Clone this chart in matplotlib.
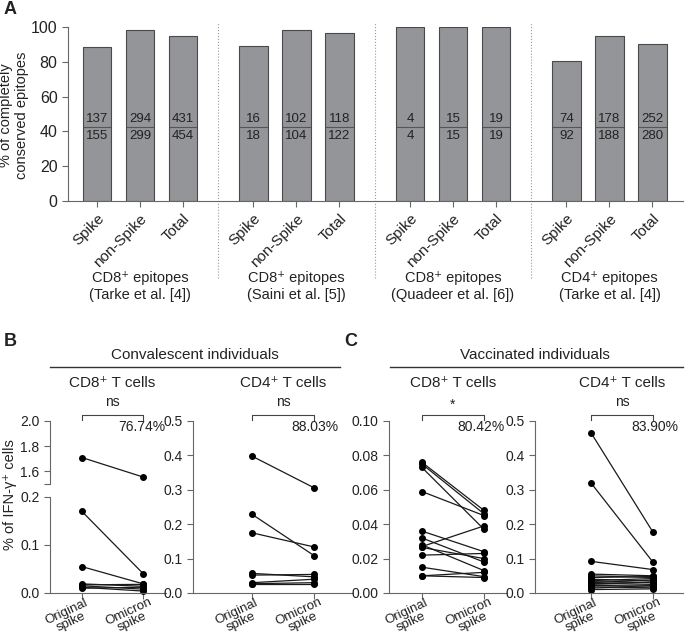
import matplotlib
matplotlib.use("Agg")
import matplotlib.pyplot as plt
from matplotlib.lines import Line2D
from matplotlib.ticker import FormatStrFormatter
from matplotlib.transforms import blended_transform_factory

plt.rcParams['font.family'] = ['Liberation Sans', 'DejaVu Sans']
plt.rcParams['font.size'] = 10
plt.rcParams['axes.edgecolor'] = '#666666'
plt.rcParams['xtick.color'] = '#666666'
plt.rcParams['ytick.color'] = '#666666'
plt.rcParams['xtick.labelcolor'] = '#222222'
plt.rcParams['ytick.labelcolor'] = '#222222'
plt.rcParams['text.color'] = '#222222'

# ---- panel A data ----
categorias = ["Spike", "non-Spike", "Total"]
grupos = ["CD8⁺ epitopes\n(Tarke et al. [4])",
          "CD8⁺ epitopes\n(Saini et al. [5])",
          "CD8⁺ epitopes\n(Quadeer et al. [6])",
          "CD4⁺ epitopes\n(Tarke et al. [4])"]
conservados = [88.4, 98.3, 94.9, 88.9, 98.1, 96.7, 100, 100, 100, 80.4, 94.7, 90.0]
numeradores = [137, 294, 431, 16, 102, 118, 4, 15, 19, 74, 178, 252]
denominadores = [155, 299, 454, 18, 104, 122, 4, 15, 19, 92, 188, 280]

# ---- panels B/C data (original spike -> omicron spike) ----
conv_cd8_orig = [1.71, 0.170, 0.055, 0.019, 0.017, 0.015, 0.012, 0.010]
conv_cd8_omi = [1.555, 0.040, 0.019, 0.014, 0.018, 0.008, 0.004, 0.012]
conv_cd4_orig = [0.398, 0.229, 0.175, 0.057, 0.052, 0.030, 0.027, 0.025]
conv_cd4_omi = [0.306, 0.109, 0.134, 0.047, 0.054, 0.040, 0.030, 0.025]
vac_cd8_orig = [0.076, 0.075, 0.073, 0.059, 0.036, 0.032, 0.028, 0.027, 0.0265, 0.022, 0.015, 0.010, 0.010]
vac_cd8_omi = [0.048, 0.046, 0.037, 0.045, 0.024, 0.018, 0.013, 0.039, 0.020, 0.023, 0.0095, 0.012, 0.009]
vac_cd4_orig = [0.466, 0.320, 0.092, 0.055, 0.050, 0.045, 0.040, 0.036, 0.033, 0.030, 0.028, 0.025, 0.022, 0.018, 0.014, 0.010]
vac_cd4_omi = [0.176, 0.089, 0.068, 0.050, 0.045, 0.048, 0.035, 0.042, 0.030, 0.038, 0.025, 0.032, 0.020, 0.015, 0.022, 0.012]
percentuais = ["76.74%", "88.03%", "80.42%", "83.90%"]
significancia = ["ns", "ns", "*", "ns"]
xrotulos = [("Original", "spike"), ("Omicron", "spike")]

W, H = 685, 635
fig = plt.figure(figsize=(W / 100, H / 100), dpi=100)


def rect(l, t, r, b):
    return [l / W, 1 - b / H, (r - l) / W, (b - t) / H]


def fx(x):
    return x / W


def fy(y):
    return 1 - y / H


# ================= Panel A =================
axA = fig.add_axes(rect(68, 27, 683, 201))
pos = [g * 3.64 + i for g in range(4) for i in range(3)]
axA.bar(pos, conservados, width=0.66, color='#939598', edgecolor='#4a4a4a', linewidth=0.8)
axA.set_xlim(-0.674, 13.63)
axA.set_ylim(0, 100)
axA.set_yticks(range(0, 101, 20))
axA.set_xticks(pos)
axA.set_xticklabels(categorias * 4, rotation=45, ha='right', rotation_mode='anchor', fontsize=11)
axA.tick_params(axis='y', labelsize=11.5, length=4)
axA.tick_params(axis='x', length=4)
for s in ['top', 'right']:
    axA.spines[s].set_visible(False)

for p, n, d in zip(pos, numeradores, denominadores):
    axA.plot([p - 0.31, p + 0.31], [42.5, 42.5], color='#555555', lw=0.8)
    axA.text(p, 47, str(n), ha='center', va='center', fontsize=9.5)
    axA.text(p, 37.5, str(d), ha='center', va='center', fontsize=9.5)

for g in range(3):
    xs = (pos[g * 3 + 2] + pos[g * 3 + 3]) / 2
    axA.axvline(xs, ymin=-0.44, ymax=1.03, color='#999999', ls=':', lw=0.8, clip_on=False)

tr = blended_transform_factory(axA.transData, axA.transAxes)
for g, nome in enumerate(grupos):
    axA.text(pos[g * 3 + 1], -0.49, nome, transform=tr, ha='center', va='center',
             fontsize=10.5, linespacing=1.3)

fig.text(fx(14), fy(115), "% of completely\nconserved epitopes", rotation=90,
         ha='center', va='center', fontsize=10.5, linespacing=1.2)
fig.text(fx(4), fy(9), "A", fontsize=13, fontweight='bold', va='center')

# ================= Panels B / C =================


def estilo(ax):
    for s in ['top', 'right']:
        ax.spines[s].set_visible(False)
    ax.tick_params(length=4, labelsize=10)


def pares(ax, orig, omi):
    for a, b in zip(orig, omi):
        ax.plot([0, 1], [a, b], color='#1a1a1a', lw=0.9, marker='o', ms=4,
                mec='black', mfc='black', clip_on=False)


def eixo_x(ax, xl, xr):
    ax.set_xlim(xl, xr)
    ax.set_xticks([0, 1])
    ax.set_xticklabels(['', ''])
    for x, (l1, l2) in zip([0, 1], xrotulos):
        ax.annotate(l1, (x, 0), xytext=(-15, -19), textcoords='offset pixels',
                    rotation=25, ha='center', va='center', rotation_mode='anchor',
                    fontsize=9.5, annotation_clip=False)
        ax.annotate(l2, (x, 0), xytext=(-11, -29), textcoords='offset pixels',
                    rotation=25, ha='center', va='center', rotation_mode='anchor',
                    fontsize=9.5, annotation_clip=False)


# B1 broken axis
b1_low = fig.add_axes(rect(50, 497, 166, 593))
b1_up = fig.add_axes(rect(50, 421, 166, 484))
baixo = [(a, b) for a, b in zip(conv_cd8_orig, conv_cd8_omi) if a < 0.2]
cima = [(a, b) for a, b in zip(conv_cd8_orig, conv_cd8_omi) if a > 1.5]
estilo(b1_low)
estilo(b1_up)
pares(b1_low, [a for a, b in baixo], [b for a, b in baixo])
pares(b1_up, [a for a, b in cima], [b for a, b in cima])
b1_low.set_ylim(0, 0.2)
b1_low.set_yticks([0, 0.1, 0.2])
b1_low.yaxis.set_major_formatter(FormatStrFormatter('%.1f'))
eixo_x(b1_low, -0.52, 1.37)
b1_up.set_ylim(1.5, 2.0)
b1_up.set_yticks([1.5, 1.6, 1.8, 2.0])
b1_up.set_yticklabels(['', '1.6', '1.8', '2.0'])
b1_up.set_xlim(-0.52, 1.37)
b1_up.spines['bottom'].set_visible(False)
b1_up.set_xticks([])

# B2
b2 = fig.add_axes(rect(193, 421, 353, 593))
estilo(b2)
pares(b2, conv_cd4_orig, conv_cd4_omi)
b2.set_ylim(0, 0.5)
b2.set_yticks([0, 0.1, 0.2, 0.3, 0.4, 0.5])
b2.yaxis.set_major_formatter(FormatStrFormatter('%.1f'))
eixo_x(b2, -0.95, 1.63)

# C1
c1 = fig.add_axes(rect(389, 421, 507, 593))
estilo(c1)
pares(c1, vac_cd8_orig, vac_cd8_omi)
c1.set_ylim(0, 0.10)
c1.set_yticks([0, 0.02, 0.04, 0.06, 0.08, 0.10])
c1.yaxis.set_major_formatter(FormatStrFormatter('%.2f'))
eixo_x(c1, -0.53, 1.37)

# C2
c2 = fig.add_axes(rect(535, 421, 683, 593))
estilo(c2)
pares(c2, vac_cd4_orig, vac_cd4_omi)
c2.set_ylim(0, 0.5)
c2.set_yticks([0, 0.1, 0.2, 0.3, 0.4, 0.5])
c2.yaxis.set_major_formatter(FormatStrFormatter('%.1f'))
eixo_x(c2, -0.9, 1.48)

titulos = ["CD8⁺ T cells", "CD4⁺ T cells", "CD8⁺ T cells", "CD4⁺ T cells"]
eixos = [b1_low, b2, c1, c2]
direita = [165, 338, 505, 678]
for ax, t, sig, pc, xr in zip(eixos, titulos, significancia, percentuais, direita):
    trb = blended_transform_factory(ax.transData, fig.transFigure)
    ax.text(0.5, fy(383), t, transform=trb, ha='center', va='center', fontsize=11)
    ax.text(0.5, fy(405 if sig == "*" else 402), sig, transform=trb, ha='center', va='center', fontsize=10)
    ax.plot([0, 0, 1, 1], [fy(420), fy(415), fy(415), fy(420)], transform=trb,
            color='#444444', lw=0.8, clip_on=False)
    fig.text(fx(xr), fy(427), pc, ha='right', va='center', fontsize=10)

fig.text(fx(195), fy(355), "Convalescent individuals", ha='center', va='center', fontsize=11)
fig.add_artist(Line2D([fx(50), fx(340)], [fy(367), fy(367)], color='#333333', lw=1))
fig.text(fx(535), fy(355), "Vaccinated individuals", ha='center', va='center', fontsize=11)
fig.add_artist(Line2D([fx(390), fx(683)], [fy(367), fy(367)], color='#333333', lw=1))

fig.text(fx(10), fy(495), "% of IFN-γ⁺ cells", rotation=90, ha='center', va='center', fontsize=10.5)
fig.text(fx(4), fy(341), "B", fontsize=13, fontweight='bold', va='center')
fig.text(fx(344), fy(341), "C", fontsize=13, fontweight='bold', va='center')

fig.savefig("out.png", dpi=100)
